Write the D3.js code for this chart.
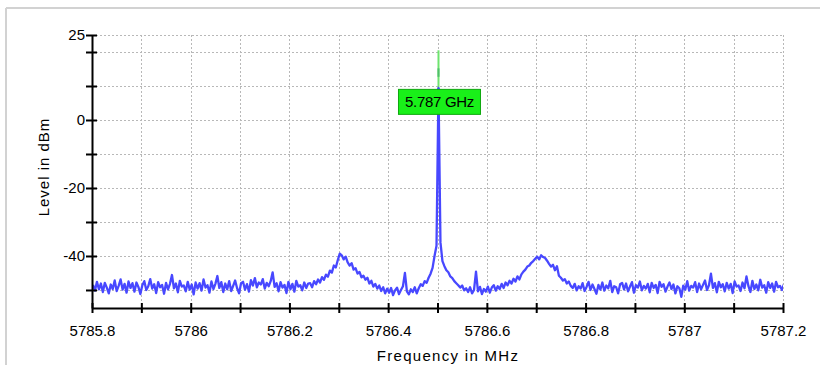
<!DOCTYPE html>
<html>
<head>
<meta charset="utf-8">
<script src="https://cdn.jsdelivr.net/npm/d3@7"></script>
<style>
  html, body { margin: 0; padding: 0; background: #fff; }
  svg { display: block; font-family: "Liberation Sans", Arial, sans-serif; }
</style>
</head>
<body>
<svg id="chart" width="820" height="365"></svg>
<script>
// Spectrum sweep: 351 points, 4 kHz apart
const sweepStart = 5785.802;
const sweepStep = 0.004;
const levels = [
  -48.5,-50.2,-47.6,-49.8,-48.1,-50.6,-47.9,-49.3,-51.0,-48.4,
  -49.7,-47.2,-50.3,-48.8,-46.9,-49.9,-48.2,-50.8,-47.5,-49.4,
  -48.0,-50.5,-47.8,-49.1,-51.2,-48.6,-47.4,-50.0,-48.9,-46.8,
  -49.6,-48.3,-50.9,-47.7,-49.2,-48.5,-51.1,-47.9,-49.8,-48.2,
  -45.6,-49.5,-48.1,-50.7,-47.3,-49.0,-48.7,-50.4,-47.6,-49.9,
  -48.4,-51.3,-47.8,-49.6,-48.0,-50.2,-46.9,-49.3,-48.6,-50.8,
  -47.5,-49.7,-48.2,-45.9,-49.4,-47.7,-50.6,-48.1,-49.8,-47.4,
  -50.3,-48.8,-47.2,-49.5,-51.0,-48.0,-47.6,-49.9,-48.3,-50.5,
  -47.1,-48.7,-46.5,-49.2,-47.8,-48.4,-46.8,-49.6,-47.9,-48.9,
  -47.4,-44.8,-49.1,-48.0,-50.4,-47.7,-49.3,-48.5,-50.9,-47.6,
  -49.8,-48.2,-50.5,-47.3,-49.0,-48.6,-50.1,-47.8,-49.4,-48.1,
  -48.0,-49.2,-47.4,-48.3,-46.9,-47.8,-46.2,-47.0,-45.5,-46.1,
  -44.3,-44.9,-42.8,-43.4,-41.2,-39.3,-39.8,-41.0,-40.2,-41.9,
  -42.8,-42.1,-44.0,-43.6,-45.2,-44.7,-46.3,-45.8,-47.0,-46.4,
  -48.1,-47.3,-49.0,-48.2,-49.6,-48.7,-50.3,-49.2,-51.0,-49.6,
  -50.8,-49.4,-51.5,-50.1,-49.3,-51.2,-50.0,-48.9,-45.0,-50.4,
  -51.3,-49.8,-50.6,-49.2,-51.0,-49.5,-48.3,-48.8,-47.4,-47.9,
  -46.4,-45.2,-43.5,-40.0,-37.0,  9.3,-36.0,-41.5,-43.0,-44.2,
  -44.8,-46.0,-46.5,-47.4,-48.0,-48.6,-49.3,-48.7,-50.1,-49.5,
  -50.6,-49.2,-51.0,-50.0,-44.6,-50.4,-49.1,-51.2,-49.7,-50.5,
  -49.0,-50.8,-49.3,-48.6,-50.2,-48.9,-49.7,-48.2,-49.4,-47.8,
  -48.6,-47.3,-48.1,-46.7,-47.5,-46.0,-46.9,-45.4,-44.6,-44.0,
  -43.1,-42.8,-42.0,-41.5,-40.8,-40.2,-41.0,-39.8,-40.3,-40.6,
  -41.4,-42.3,-43.1,-42.6,-44.2,-43.0,-45.8,-46.4,-47.2,-46.8,
  -48.1,-47.5,-48.8,-49.4,-48.2,-50.1,-48.9,-49.6,-48.0,-50.3,
  -49.1,-47.6,-50.0,-48.4,-49.7,-51.1,-48.5,-49.9,-47.8,-50.2,
  -48.7,-49.5,-47.3,-50.6,-48.9,-49.2,-51.0,-48.3,-47.9,-49.8,
  -48.1,-50.4,-49.0,-47.7,-50.8,-48.6,-49.3,-47.5,-50.1,-48.8,
  -49.6,-48.2,-50.7,-47.9,-49.4,-48.5,-50.9,-47.6,-49.1,-48.3,
  -50.5,-49.0,-47.8,-49.7,-48.4,-51.0,-48.9,-49.5,-52.0,-48.7,
  -49.9,-47.4,-50.2,-48.8,-49.3,-47.7,-50.6,-48.1,-49.8,-48.5,
  -47.2,-50.0,-48.6,-45.2,-49.4,-48.0,-50.7,-47.6,-49.2,-48.3,
  -50.4,-47.9,-49.6,-48.2,-50.9,-47.5,-49.0,-48.7,-50.3,-47.8,
  -49.5,-46.0,-48.9,-50.6,-47.3,-49.7,-48.4,-50.1,-47.0,-49.3,
  -48.6,-50.8,-47.7,-49.4,-48.1,-50.5,-47.6,-49.2,-48.8,-50.0,-48.3
];

// Marker on the carrier
const markerFreq = 5786.502;    // MHz
const markerLevel = 9.3;        // dBm (trace value at the carrier)
const markerHoldLevel = 20.5;   // dBm (max-hold line above the trace)
const markerText = "5.787 GHz";

// Axis ticks
const xTicks = [5785.8,5785.9,5786,5786.1,5786.2,5786.3,5786.4,5786.5,5786.6,5786.7,5786.8,5786.9,5787,5787.1,5787.2];
const xTickLabels = ["5785.8","","5786","","5786.2","","5786.4","","5786.6","","5786.8","","5787","","5787.2"];
const yTicks = [25,20,10,0,-10,-20,-30,-40,-50];
const yTickLabels = ["25","","","0","","-20","","-40",""];

const xTitle = "Frequency in MHz";
const yTitle = "Level in dBm";

const svg = d3.select("#chart");

const x = d3.scaleLinear().domain([5785.8, 5787.2]).range([92, 783]);
const y = d3.scaleLinear().domain([-55.3, 25]).range([308, 35]);

// Panel frame (top and left edges)
svg.append("line").attr("x1", 6).attr("x2", 820).attr("y1", 8).attr("y2", 8)
  .attr("stroke", "#d2d2d2").attr("stroke-width", 2);
svg.append("line").attr("x1", 6).attr("x2", 6).attr("y1", 8).attr("y2", 365)
  .attr("stroke", "#d2d2d2").attr("stroke-width", 2);

// Plot clip
svg.append("clipPath").attr("id", "plot-clip")
  .append("rect").attr("x", 92).attr("y", 20).attr("width", 691).attr("height", 288);

// Dotted grid
const grid = svg.append("g").attr("stroke", "#b8b8b8").attr("stroke-width", 1)
  .attr("stroke-dasharray", "2,2").attr("shape-rendering", "crispEdges");
grid.selectAll("line.v").data(xTicks.slice(1)).join("line")
  .attr("class", "v")
  .attr("x1", d => Math.round(x(d)) + 0.5).attr("x2", d => Math.round(x(d)) + 0.5)
  .attr("y1", y(25)).attr("y2", 308);
grid.selectAll("line.h").data(yTicks).join("line")
  .attr("class", "h")
  .attr("x1", 92).attr("x2", x(5787.2))
  .attr("y1", d => Math.round(y(d)) + 0.5).attr("y2", d => Math.round(y(d)) + 0.5);

// Trace
const trace = levels.map((v, i) => [sweepStart + i * sweepStep, v]);
const line = d3.line().x(d => x(d[0])).y(d => y(d[1]));

// Max-hold marker line above the carrier
svg.append("line")
  .attr("x1", x(markerFreq)).attr("x2", x(markerFreq))
  .attr("y1", y(markerHoldLevel)).attr("y2", y(markerLevel))
  .attr("stroke", "#6ee46e").attr("stroke-width", 2);
svg.append("line")
  .attr("x1", x(markerFreq)).attr("x2", x(markerFreq))
  .attr("y1", y(15.2)).attr("y2", y(12.7))
  .attr("stroke", "#4fbf6a").attr("stroke-width", 2);

svg.append("path")
  .datum(trace)
  .attr("clip-path", "url(#plot-clip)")
  .attr("fill", "none")
  .attr("stroke", "#4848ff")
  .attr("stroke-width", 2.3)
  .attr("stroke-linejoin", "round")
  .attr("d", line);

// Axes
const fontSize = 15;
const yAxis = d3.axisLeft(y).tickValues(yTicks)
  .tickFormat((d, i) => yTickLabels[i]).tickSize(6).tickPadding(1).tickSizeOuter(0);
const gy = svg.append("g").attr("transform", "translate(92,0)").call(yAxis);
gy.select(".domain").attr("stroke", "#000").attr("stroke-width", 2);
gy.selectAll(".tick line").attr("x1", 5).attr("stroke", "#000").attr("stroke-width", 2);
gy.selectAll(".tick text").attr("fill", "#000").style("font-size", fontSize + "px")
  .style("font-family", "'Liberation Sans', Arial, sans-serif");

const xAxis = d3.axisBottom(x).tickValues(xTicks)
  .tickFormat((d, i) => xTickLabels[i]).tickSize(5).tickPadding(12).tickSizeOuter(0);
const gx = svg.append("g").attr("transform", "translate(0,308)").call(xAxis);
gx.select(".domain").attr("stroke", "#000").attr("stroke-width", 2);
gx.selectAll(".tick line").attr("y1", -5).attr("stroke", "#000").attr("stroke-width", 2);
gx.selectAll(".tick text").attr("fill", "#000").style("font-size", fontSize + "px")
  .style("font-family", "'Liberation Sans', Arial, sans-serif");

// Axis titles
svg.append("text")
  .attr("transform", `translate(49,${167}) rotate(-90)`)
  .attr("text-anchor", "middle")
  .style("font-size", "15px").style("letter-spacing", "1px")
  .text(yTitle);
svg.append("text")
  .attr("x", 448).attr("y", 361)
  .attr("text-anchor", "middle")
  .style("font-size", "15px").style("letter-spacing", "1.3px")
  .text(xTitle);

// Marker symbol and readout box
const mx = x(markerFreq), my = y(markerLevel);
svg.append("path")
  .attr("d", `M${mx - 3},${my + 3}L${mx},${my - 2}L${mx + 3},${my + 3}Z`)
  .attr("fill", "#4848ff");
const boxW = 82, boxH = 25;
const box = svg.append("g").attr("transform", `translate(${mx - 40},${my + 1})`);
box.append("rect").attr("width", boxW).attr("height", boxH)
  .attr("fill", "#19f019").attr("stroke", "#0fa80f").attr("stroke-width", 1);
box.append("text").attr("x", boxW / 2).attr("y", 18)
  .attr("text-anchor", "middle").style("font-size", "15px").style("letter-spacing", "-0.3px")
  .text(markerText);
</script>
</body>
</html>
